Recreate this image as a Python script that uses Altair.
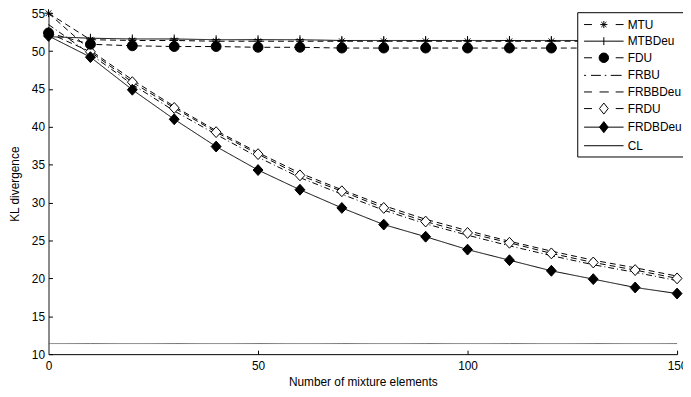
import altair as alt
import pandas as pd

# ---------------- data ----------------
x_values = [0, 10, 20, 30, 40, 50, 60, 70, 80, 90, 100, 110, 120, 130, 140, 150]
series_names = ["MTU", "MTBDeu", "FDU", "FRBU", "FRBBDeu", "FRDU", "FRDBDeu", "CL"]

mtu = [55.0, 51.5, 51.4, 51.4, 51.3, 51.3, 51.3, 51.3, 51.3, 51.3, 51.3, 51.3, 51.3, 51.3, 51.3, 51.3]
mtbdeu = [51.9, 51.7, 51.6, 51.6, 51.5, 51.5, 51.5, 51.4, 51.4, 51.4, 51.4, 51.4, 51.4, 51.4, 51.4, 51.4]
fdu = [52.4, 50.9, 50.7, 50.6, 50.6, 50.5, 50.5, 50.4, 50.4, 50.4, 50.4, 50.4, 50.4, 50.4, 50.4, 50.4]
frbu = [53.5, 49.6, 45.6, 42.1, 39.0, 36.0, 33.3, 31.1, 29.0, 27.2, 25.7, 24.3, 23.0, 21.8, 20.8, 19.7]
frbbdeu = [55.0, 50.1, 46.2, 42.7, 39.5, 36.6, 33.9, 31.7, 29.6, 27.8, 26.3, 24.9, 23.6, 22.4, 21.4, 20.3]
frdu = [52.4, 49.9, 45.9, 42.5, 39.3, 36.4, 33.6, 31.5, 29.3, 27.5, 26.0, 24.7, 23.3, 22.1, 21.1, 20.0]
frdbdeu = [52.0, 49.2, 44.9, 41.0, 37.4, 34.3, 31.7, 29.3, 27.1, 25.5, 23.8, 22.4, 21.0, 19.9, 18.8, 18.0]
cl = [11.4, 11.4, 11.4, 11.4, 11.4, 11.4, 11.4, 11.4, 11.4, 11.4, 11.4, 11.4, 11.4, 11.4, 11.4, 11.4]

x_ticks = [0, 50, 100, 150]
y_ticks = [10, 15, 20, 25, 30, 35, 40, 45, 50, 55]

series_values = dict(zip(series_names, [mtu, mtbdeu, fdu, frbu, frbbdeu, frdu, frdbdeu, cl]))

rows = []
for name in series_names:
    for xv, yv in zip(x_values, series_values[name]):
        rows.append({"series": name, "x": xv, "y": yv})
df = pd.DataFrame(rows)

# markers (drawn in this order, later on top)
marker_order = ["FRDU", "FRDBDeu", "MTU", "MTBDeu", "FDU"]
prow = []
for name in marker_order:
    for xv, yv in zip(x_values, series_values[name]):
        prow.append({"series": name, "x": xv, "y": yv})
pdf = pd.DataFrame(prow)

# ---------------- styles ----------------
FONT = "Liberation Sans"
dash_range = [[6, 4], [1, 0], [6, 4], [6, 3, 1, 3], [6, 4], [6, 4], [1, 0], [1, 0]]
line_colors = ["black", "black", "black", "black", "black", "black", "black", "#6f6f6f"]

asterisk = "M-0.8,0H0.8M0,-0.8V0.8M-0.57,-0.57L0.57,0.57M-0.57,0.57L0.57,-0.57"
plus = "M-0.9,0H0.9M0,-0.9V0.9"
diamond = "M0,-1.1L1,0L0,1.1L-1,0Z"
marker_shapes = [diamond, diamond, asterisk, plus, "circle"]
marker_fills = ["white", "black", "black", "black", "black"]

# legend symbols (unit = 8px), line from -0.7 to 4.3, marker at 1.8
dL = "M-0.7,0H0.3M3.3,0H4.3"
legend_paths = [
    dL + "M1.35,0H2.25M1.8,-0.45V0.45M1.48,-0.32L2.12,0.32M1.48,0.32L2.12,-0.32",
    "M-0.7,0H4.3M1.8,-0.5V0.5",
    dL + "M1.2,0A0.6,0.6 0 1,1 2.4,0A0.6,0.6 0 1,1 1.2,0Z",
    "M-0.7,0H-0.45M0.175,0H1.425M1.925,0H2.11M2.675,0H4.05",
    "M-0.7,0H0.3M1.26,0H2.425M3.3,0H4.3",
    dL + "M1.8,-0.7L2.35,0L1.8,0.7L1.25,0Z",
    "M-0.7,0H4.3M1.8,-0.7L2.35,0L1.8,0.7L1.25,0Z",
    "M-0.7,0H4.3",
]
legend_fills = ["black", "black", "black", "black", "black", "white", "black", "black"]

W, H = 636, 345
xs = alt.Scale(domain=[0, 150], nice=False, zero=False)
ys = alt.Scale(domain=[10, 55], nice=False, zero=False)

x_axis = alt.Axis(values=x_ticks, ticks=False, tickSize=0, labelPadding=7, domainColor="black",
                  domainWidth=1, grid=False, title="Number of mixture elements", titleFont=FONT,
                  titleFontSize=12, titleFontWeight="normal", titlePadding=5, labelFont=FONT,
                  labelFontSize=12, labelColor="black", titleColor="black", labelFlush=False,
                  labelOverlap=False)
y_axis = alt.Axis(values=y_ticks, ticks=False, tickSize=0, labelPadding=4, domainColor="#8a8a8a",
                  domainWidth=2, grid=False, title="KL divergence", titleFont=FONT,
                  titleFontSize=12, titleFontWeight="normal", titlePadding=10, labelFont=FONT,
                  labelFontSize=12, labelColor="black", titleColor="black", labelFlush=False,
                  labelOverlap=False)

lines = alt.Chart(df).mark_line(strokeWidth=1).encode(
    x=alt.X("x:Q", scale=xs, axis=x_axis),
    y=alt.Y("y:Q", scale=ys, axis=y_axis),
    strokeDash=alt.StrokeDash("series:N", scale=alt.Scale(domain=series_names, range=dash_range), legend=None),
    color=alt.Color("series:N", scale=alt.Scale(domain=series_names, range=line_colors), legend=None),
    detail="series:N",
)

points = alt.Chart(pdf).mark_point(filled=False, stroke="black", strokeWidth=1, size=100, opacity=1).encode(
    x=alt.X("x:Q", scale=xs, axis=None),
    y=alt.Y("y:Q", scale=ys, axis=None),
    shape=alt.Shape("series:N", scale=alt.Scale(domain=marker_order, range=marker_shapes), legend=None),
    fill=alt.Fill("series:N", scale=alt.Scale(domain=marker_order, range=marker_fills), legend=None),
)

legend_cfg = dict(
    orient="none", legendX=535, legendY=-1, title=None, padding=4, rowPadding=1.8,
    symbolSize=256, symbolStrokeWidth=1, symbolStrokeColor="black", symbolFillColor="black",
    symbolOpacity=1, labelOffset=30, labelFont=FONT, labelFontSize=12, labelColor="black",
    labelLimit=200, strokeColor="black", fillColor="white", cornerRadius=0,
)

legend_layer = alt.Chart(df).transform_filter("datum.x < -1").mark_point(
    filled=False, stroke="black", strokeWidth=1, opacity=1
).encode(
    x=alt.X("x:Q", scale=xs, axis=alt.Axis(orient="top", offset=-H, values=x_ticks, labels=False,
                                             domain=False, ticks=True, tickSize=4, tickColor="black",
                                             grid=False, title=None)),
    y=alt.Y("y:Q", scale=ys, axis=alt.Axis(orient="right", offset=-W, values=y_ticks, labels=False,
                                             domain=False, ticks=True, tickSize=4, tickColor="black",
                                             grid=False, title=None)),
    shape=alt.Shape("series:N", scale=alt.Scale(domain=series_names, range=legend_paths),
                    legend=alt.Legend(**legend_cfg)),
    fill=alt.Fill("series:N", scale=alt.Scale(domain=series_names, range=legend_fills),
                  legend=alt.Legend(**legend_cfg)),
)

chart = alt.layer(lines, points, legend_layer).resolve_scale(
    shape="independent", fill="independent"
).resolve_axis(x="independent", y="independent").resolve_legend(
    shape="independent", fill="independent"
).properties(
    width=W, height=H,
    autosize=alt.AutoSizeParams(type="none"),
    padding={"left": 41, "top": 3, "right": 6, "bottom": 33},
).configure_view(stroke=None)

chart.save("out.html", embed_options={"renderer": "svg", "actions": False})
